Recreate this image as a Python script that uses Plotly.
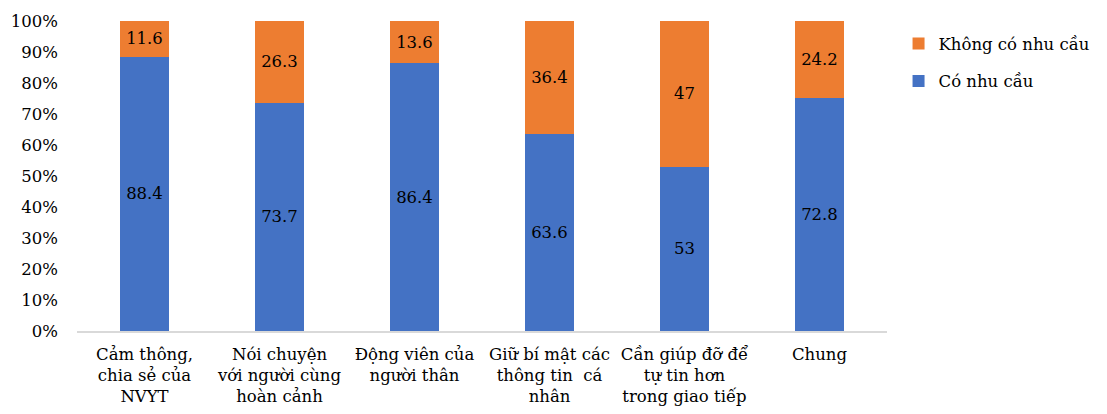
import plotly.graph_objects as go

categories = [
    "Cảm thông,<br>chia sẻ của<br>NVYT",
    "Nói chuyện<br>với người cùng<br>hoàn cảnh",
    "Động viên của<br>người thân",
    "Giữ bí mật các<br>thông tin  cá<br>nhân",
    "Cần giúp đỡ để<br>tự tin hơn<br>trong giao tiếp",
    "Chung",
]
co_nhu_cau = [88.4, 73.7, 86.4, 63.6, 53, 72.8]
khong_nhu_cau = [11.6, 26.3, 13.6, 36.4, 47, 24.2]

FONT = "DejaVu Serif"
FS = 16.5

fig = go.Figure()
fig.add_trace(go.Bar(
    x=categories, y=co_nhu_cau, name="Có nhu cầu", legendrank=2, legendgroup="b",
    marker=dict(color="#4472C4", line=dict(width=0)),
    text=[str(v) for v in co_nhu_cau], textposition="inside",
    insidetextanchor="middle", textangle=0,
    textfont=dict(family=FONT, size=FS, color="black"),
))
fig.add_trace(go.Bar(
    x=categories, y=khong_nhu_cau, name="Không có nhu cầu", legendrank=1, legendgroup="a",
    marker=dict(color="#ED7D31", line=dict(width=0)),
    text=[str(v) for v in khong_nhu_cau], textposition="inside",
    insidetextanchor="middle", textangle=0,
    textfont=dict(family=FONT, size=FS, color="black"),
))

fig.update_layout(
    barmode="stack", barnorm="percent", bargap=0.636,
    width=1107, height=414,
    margin=dict(l=77, r=219, t=21, b=83),
    plot_bgcolor="white", paper_bgcolor="white",
    font=dict(family=FONT, size=FS, color="black"),
    uniformtext=dict(mode=False),
    showlegend=True,
    legend=dict(
        traceorder="grouped", tracegroupgap=13,
        x=1.013, xanchor="left", y=0.983, yanchor="top",
        font=dict(family=FONT, size=FS, color="black"),
        itemwidth=30, bgcolor="rgba(0,0,0,0)",
    ),
)
fig.update_xaxes(
    showline=True, linecolor="#D9D9D9", linewidth=1.5,
    showgrid=False, ticks="", tickfont=dict(family=FONT, size=FS),
    ticklabelstandoff=7, automargin=False, tickangle=0,
)
fig.update_yaxes(
    range=[0, 100], dtick=10, ticksuffix="%", showgrid=False,
    showline=False, zeroline=False, ticks="",
    tickfont=dict(family=FONT, size=FS),
    ticklabelstandoff=18, automargin=False,
)

fig.write_html("out.html")
